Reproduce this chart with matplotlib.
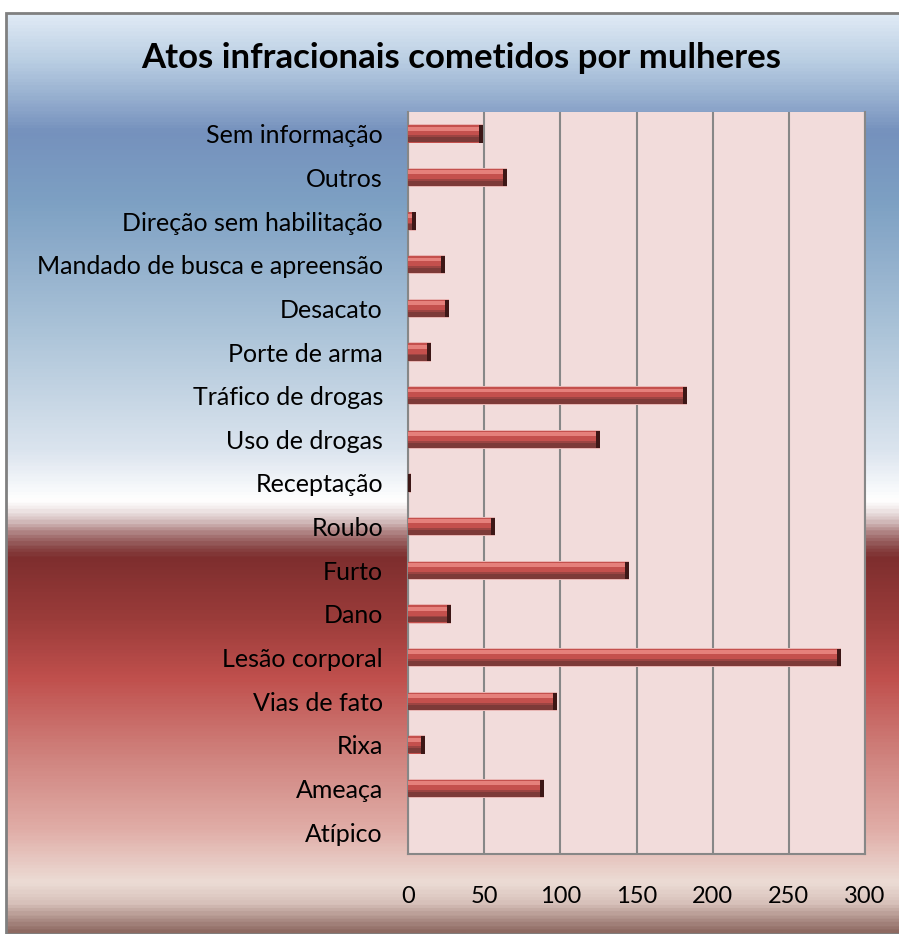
import matplotlib
matplotlib.use("Agg")
import matplotlib.pyplot as plt
import numpy as np
from matplotlib.colors import LinearSegmentedColormap
from matplotlib.patches import Rectangle

plt.rcParams['font.family'] = ['Lato', 'DejaVu Sans']

title = "Atos infracionais cometidos por mulheres"
categories = ["Atípico", "Ameaça", "Rixa", "Vias de fato", "Lesão corporal", "Dano",
              "Furto", "Roubo", "Receptação", "Uso de drogas", "Tráfico de drogas",
              "Porte de arma", "Desacato", "Mandado de busca e apreensão",
              "Direção sem habilitação", "Outros", "Sem informação"]
values = [0, 89, 11, 98, 284, 28, 145, 57, 2, 126, 183, 15, 27, 24, 5, 65, 49]
xticks = [0, 50, 100, 150, 200, 250, 300]

W, H = 899, 934
fig = plt.figure(figsize=(W / 100, H / 100), dpi=100)

# background gradient (chart area)
x0px, y0px = 6, 13
stops_px = [(13, '#dfeaf5'), (60, '#b8cde2'), (130, '#7591bd'), (200, '#7da0c3'),
            (330, '#abc3d8'), (450, '#dbe4ee'), (500, '#ffffff'), (508, '#f4eeee'),
            (520, '#d8c4c4'), (535, '#a87878'), (548, '#8a4848'), (558, '#7e2e2e'),
            (620, '#9b3c3a'), (680, '#c0504d'), (760, '#d0847f'), (830, '#e0aca6'),
            (885, '#ecdcd5'), (905, '#d8c2bb'), (934, '#8e6a62')]
span = H - y0px
cmap = LinearSegmentedColormap.from_list(
    'bg', [((p - y0px) / span, c) for p, c in stops_px])
bg = fig.add_axes([x0px / W, 0, 1 - x0px / W, span / H], zorder=-10)
grad = np.linspace(0, 1, 600).reshape(-1, 1)
bg.imshow(grad, aspect='auto', cmap=cmap, extent=[0, 1, 0, 1], origin='upper')
bg.set_axis_off()
fig.add_artist(Rectangle((x0px / W, 0), 1, span / H, transform=fig.transFigure,
                         fill=False, edgecolor='#808080', linewidth=2, zorder=-5))

fig.text(461 / W, 1 - 58 / H, title, ha='center', va='center',
         fontsize=25, fontweight='bold', color='black')

ax = fig.add_axes([408 / W, 1 - 854 / H, (865 - 408) / W, (854 - 112) / H])
ax.set_facecolor('#f2dcdb')
y = np.arange(len(categories))
h = 0.40
# pale outline
ax.barh(y, values, height=h + 0.04, color='#e8b5b3', zorder=2)
# base face
ax.barh(y, values, height=h, color='#c4504d', zorder=3)
# top highlight
ax.barh(y + h * 0.30, values, height=h * 0.22, color='#e5807b', zorder=4)
# bottom shadow
ax.barh(y - h * 0.30, values, height=h * 0.38, color='#7d3a38', zorder=4)
ax.barh(y - h * 0.14, values, height=h * 0.10, color='#9c4442', zorder=4)
# dark right end cap
caps = [min(v, 2.5) for v in values]
lefts = [v - c for v, c in zip(values, caps)]
ax.barh(y, caps, left=lefts, height=h, color='#3d1716', zorder=5)

ax.set_xlim(0, 300)
ax.set_ylim(-0.5, len(categories) - 0.5)
ax.set_xticks(xticks)
ax.set_xticklabels([str(t) for t in xticks])
ax.set_yticks(y)
ax.set_yticklabels(categories)
ax.tick_params(axis='x', length=0, pad=23, labelsize=17, labelcolor='black')
ax.tick_params(axis='y', length=0, pad=18, labelsize=18, labelcolor='black')
ax.xaxis.grid(True, color='#878787', linewidth=1.5, zorder=1)
ax.set_axisbelow(True)
for s in ['left', 'bottom', 'right']:
    ax.spines[s].set_color('#878787')
    ax.spines[s].set_linewidth(1.5)
ax.spines['top'].set_visible(False)

fig.savefig('out.png', dpi=100)
